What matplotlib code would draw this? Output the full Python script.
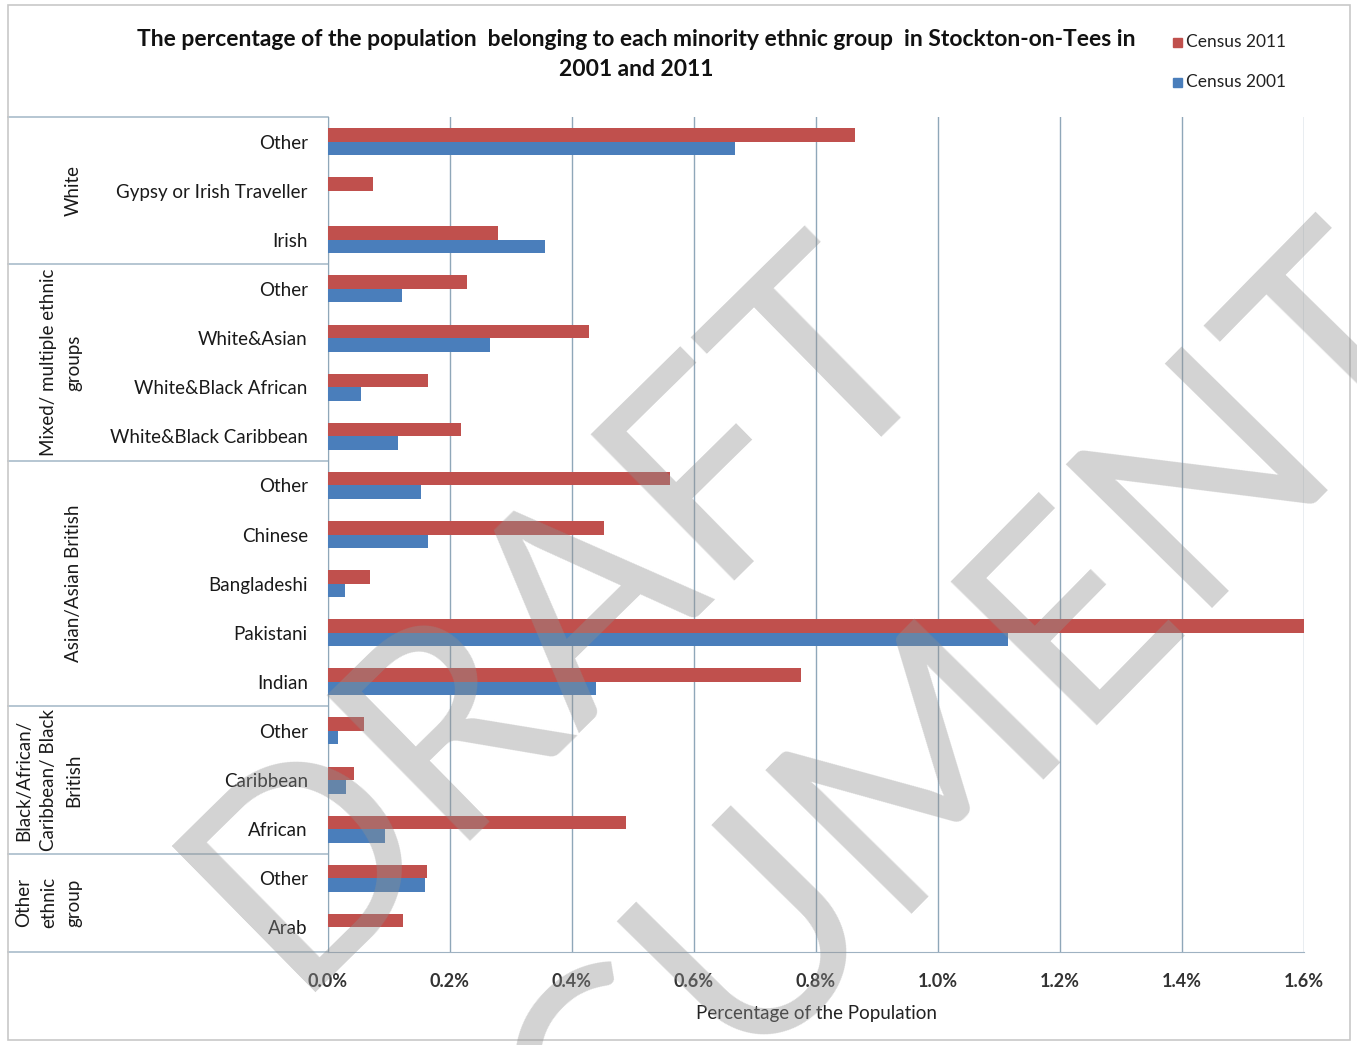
import numpy as np
import matplotlib
matplotlib.use("Agg")
import matplotlib.pyplot as plt
from matplotlib.patches import Rectangle

# data (percent of population)
categories = ["Other", "Gypsy or Irish Traveller", "Irish",
              "Other", "White&Asian", "White&Black African", "White&Black Caribbean",
              "Other", "Chinese", "Bangladeshi", "Pakistani", "Indian",
              "Other", "Caribbean", "African",
              "Other", "Arab"]
census_2011 = [0.864, 0.074, 0.279,
               0.228, 0.428, 0.164, 0.218,
               0.561, 0.452, 0.069, 1.600, 0.775,
               0.059, 0.043, 0.489,
               0.162, 0.123]
census_2001 = [0.667, 0.0, 0.356,
               0.121, 0.266, 0.054, 0.115,
               0.152, 0.164, 0.028, 1.115, 0.439,
               0.016, 0.030, 0.093,
               0.159, 0.0]
groups = ["White", "Mixed/ multiple ethnic\ngroups", "Asian/Asian British",
          "Black/African/\nCaribbean/ Black\nBritish", "Other\nethnic\ngroup"]
group_sizes = [3, 4, 5, 3, 2]
xticks = [0.0, 0.2, 0.4, 0.6, 0.8, 1.0, 1.2, 1.4, 1.6]

RED = '#c0504d'
BLUE = '#4a7ebb'
GRID = '#8fa7b9'
FONT = 'Lato'

W, H = 1357, 1045
fig = plt.figure(figsize=(W / 100, H / 100), dpi=100)

def fx(px):
    return px / W

def fy(py):
    return 1 - py / H

x0, x1, y0, y1 = 328, 1304, 117, 952
ax = fig.add_axes([fx(x0), fy(y1), fx(x1 - x0), (y1 - y0) / H])

y = np.arange(len(categories))
h = 0.275
ax.barh(y - h / 2, census_2011, height=h, color=RED, zorder=3)
ax.barh(y + h / 2, census_2001, height=h, color=BLUE, zorder=3)

ax.set_xlim(0, 1.6)
ax.set_ylim(len(categories) - 0.5, -0.5)
ax.set_xticks(xticks)
ax.set_xticklabels(["%.1f%%" % t for t in xticks], fontsize=13, family=FONT,
                   fontweight='bold', color='#333333')
ax.set_yticks(y)
ax.set_yticklabels(categories, fontsize=13.5, family=FONT, color='#1a1a1a')
ax.tick_params(axis='both', length=0)
ax.tick_params(axis='y', pad=14.5)
ax.tick_params(axis='x', pad=15)
ax.grid(axis='x', color=GRID, linewidth=1, zorder=1)
for s in ['top', 'right']:
    ax.spines[s].set_visible(False)
ax.spines['left'].set_color(GRID)
ax.spines['bottom'].set_color('#9fb2c2')
ax.set_xlabel("Percentage of the Population", fontsize=13.5, family=FONT,
              color='#222222', labelpad=11)

# group label box at left
trans = ax.get_yaxis_transform()
left = (8 - x0) / (x1 - x0)
bounds = np.concatenate([[0], np.cumsum(group_sizes)]) - 0.5
for b in bounds:
    ax.plot([left, 0], [b, b], transform=trans, color='#a9bccb', lw=1.2, clip_on=False)
gx = (82 - x0) / (x1 - x0)
for g, a, b in zip(groups, bounds[:-1], bounds[1:]):
    ax.text(gx, (a + b) / 2, g, transform=trans, rotation=90, ha='right', va='center',
            multialignment='center', fontsize=13.5, family=FONT, color='#1a1a1a',
            linespacing=1.55)

fig.text(fx(636), fy(40), "The percentage of the population  belonging to each minority ethnic group  in Stockton-on-Tees in",
         ha='center', va='center', fontsize=16.5, fontweight='bold', family=FONT, color='#111111')
fig.text(fx(636), fy(70), "2001 and 2011",
         ha='center', va='center', fontsize=16.5, fontweight='bold', family=FONT, color='#111111')

# legend
for ly, lab, col in [(42, "Census 2011", RED), (82, "Census 2001", BLUE)]:
    fig.patches.append(Rectangle((fx(1173), fy(ly + 5)), fx(9), 9 / H, color=col,
                                 transform=fig.transFigure))
    fig.text(fx(1186), fy(ly), lab, ha='left', va='center', fontsize=12.5,
             family=FONT, color='#222222')

# outer border
fig.patches.append(Rectangle((fx(8), fy(1040)), fx(1342), 1035 / H, fill=False,
                             edgecolor='#c8c8c8', lw=1.2, transform=fig.transFigure))

# watermark
fig.text(fx(560), fy(613), "DRAFT", rotation=44.5, ha='center', va='center',
         fontsize=205, family=FONT, color='#909090', alpha=0.4, zorder=10)
fig.text(fx(818), fy(868), "DOCUMENT", rotation=45.5, ha='center', va='center',
         fontsize=205, family=FONT, color='#909090', alpha=0.4, zorder=10)

fig.savefig("out.png", dpi=100)
